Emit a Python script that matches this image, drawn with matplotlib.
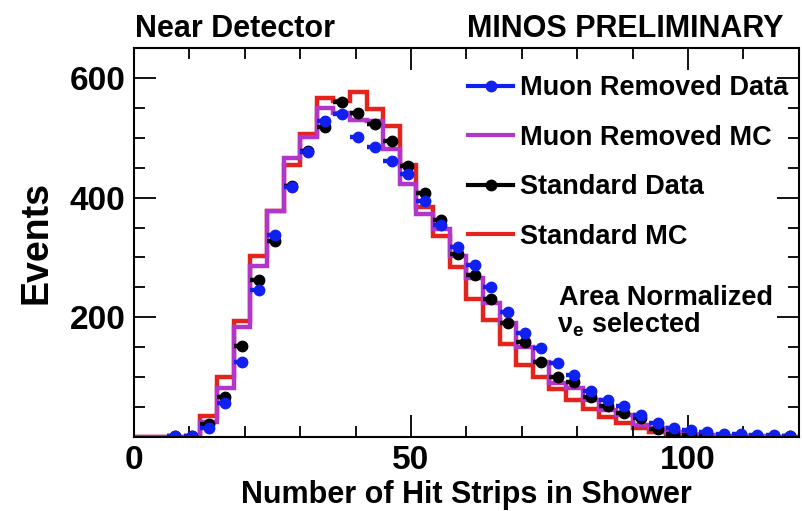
import numpy as np
import matplotlib
matplotlib.use("Agg")
import matplotlib.pyplot as plt
from matplotlib.lines import Line2D

plt.rcParams['font.family'] = ['Liberation Sans', 'DejaVu Sans']
plt.rcParams['font.weight'] = 'bold'
plt.rcParams['mathtext.fontset'] = 'custom'
plt.rcParams['mathtext.rm'] = 'Liberation Sans'
plt.rcParams['mathtext.bf'] = 'Liberation Sans:bold'

# shower hit-strip histogram, 3-strip bins from 0 to 120
bin_edges = np.arange(0, 123, 3)

std_mc = [0, 0, 0, 0, 35, 100, 194, 303, 378, 455, 506, 566, 562, 576, 548, 520,
          455, 385, 335, 284, 231, 195, 156, 120, 100, 80, 62, 46, 34, 24, 15, 9,
          5, 3, 2, 1, 1, 0.5, 0.3, 0.2]
mr_mc = [0, 0, 0, 0, 25, 81, 184, 285, 378, 466, 502, 550, 542, 530, 528, 481,
         422, 372, 348, 302, 265, 223, 190, 150, 125, 90, 81, 62, 45, 37, 20, 15,
         8, 5, 3, 2, 1.5, 1, 0.5, 0.3]
std_data = [0, 0, 1, 2, 21, 67, 152, 262, 328, 419, 478, 518, 559, 542, 523, 494,
            453, 407, 362, 306, 270, 231, 190, 159, 126, 100, 92, 67, 52, 40, 31, 13,
            5, 3.5, 5, 3, 2, 1.5, 1, 1]
mr_data = [0, 0, 1, 2, 15, 56, 125, 245, 337, 417, 477, 528, 539, 502, 484, 462,
           439, 395, 354, 317, 287, 250, 209, 173, 148, 124, 103, 77, 62, 51, 37, 23,
           14.5, 11.5, 9, 5, 4.5, 3.5, 2.5, 2]

c_red = '#e3231c'
c_purple = '#b136c9'
c_blue = '#1020f0'
c_black = '#000000'

fig = plt.figure(figsize=(8.02, 5.11), dpi=100)
ax = fig.add_axes([0.167, 0.145, 0.829, 0.761])

centers = 0.5 * (bin_edges[:-1] + bin_edges[1:])
half_w = 0.5 * np.diff(bin_edges)


def step_hist(vals, color):
    ax.stairs(vals, bin_edges, color=color, linewidth=3.2, baseline=None)


def data_points(vals, color):
    vals = np.asarray(vals, dtype=float)
    keep = vals > 0
    yerr = 0.35 * np.sqrt(vals[keep])
    eb = ax.errorbar(centers[keep], vals[keep], xerr=half_w[keep], yerr=yerr,
                     fmt='o', color=color, markersize=7.5, elinewidth=3.2,
                     capsize=0)
    for lc in eb[2]:
        lc.set_linestyle((0, (1, 1.1)))


step_hist(std_mc, c_red)
step_hist(mr_mc, c_purple)
data_points(std_data, c_black)
data_points(mr_data, c_blue)

ax.set_xlim(0, 120)
ax.set_ylim(0, 650)
ax.set_xticks([0, 50, 100])
ax.set_xticks(np.arange(0, 121, 10), minor=True)
ax.set_yticks([200, 400, 600])
ax.set_yticks(np.arange(0, 651, 50), minor=True)
ax.tick_params(which='both', direction='in', top=True, right=True, width=1.3)
ax.tick_params(which='major', length=16, labelsize=24, pad=6)
ax.tick_params(which='minor', length=8)
for lab in ax.get_xticklabels() + ax.get_yticklabels():
    lab.set_fontweight('bold')
for sp in ax.spines.values():
    sp.set_linewidth(1.5)

ax.set_xlabel('Number of Hit Strips in Shower', fontsize=22, fontweight='bold', labelpad=3)
ax.set_ylabel('Events', fontsize=27, fontweight='bold', labelpad=11)

handles = [
    Line2D([], [], color=c_blue, lw=3, marker='o', markersize=7.5),
    Line2D([], [], color=c_purple, lw=3),
    Line2D([], [], color=c_black, lw=3, marker='o', markersize=7.5),
    Line2D([], [], color=c_red, lw=3),
]
labels = ['Muon Removed Data', 'Muon Removed MC', 'Standard Data', 'Standard MC']
ax.legend(handles, labels, loc='upper right', bbox_to_anchor=(0.984, 0.93),
          frameon=False, handlelength=1.66, handletextpad=0.26, borderpad=0,
          labelspacing=0.87, borderaxespad=0, prop={'weight': 'bold', 'size': 19.5})

ax.text(0.64, 0.338, 'Area Normalized', transform=ax.transAxes, fontsize=19.5,
        fontweight='bold', va='baseline')
ax.text(0.637, 0.268, r'$\mathrm{\nu}_{\mathbf{e}}$ selected', transform=ax.transAxes,
        fontsize=19.5, fontweight='bold', va='baseline')

fig.text(0.168, 0.928, 'Near Detector', fontsize=22, fontweight='bold', va='baseline')
fig.text(0.977, 0.928, 'MINOS PRELIMINARY', fontsize=22, fontweight='bold',
         va='baseline', ha='right')

fig.savefig('out.png', dpi=100)
